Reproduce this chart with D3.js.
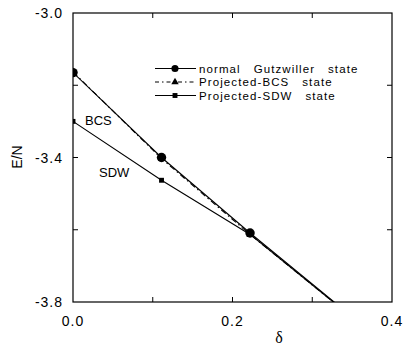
<!DOCTYPE html>
<html>
<head>
<meta charset="utf-8">
<script src="https://cdn.jsdelivr.net/npm/d3@7"></script>
<style>
  body { margin: 0; background: #fff; }
  svg { display: block; font-family: Arial, "Liberation Sans", sans-serif; }
</style>
</head>
<body>
<svg id="chart" width="407" height="348"></svg>
<script>
// doping values
const delta = [0, 0.111, 0.222, 0.333];
// energies per site
const gutzwiller = [-3.165, -3.400, -3.609, -3.810];
const projBCS = [-3.163, -3.403, -3.613, -3.812];
const projSDW = [-3.300, -3.463, -3.613, -3.812];

const xTicks = [0, 0.1, 0.2, 0.3, 0.4];
const xTickLabels = ['0.0', '', '0.2', '', '0.4'];
const yTicks = [-3.0, -3.2, -3.4, -3.6, -3.8];
const yTickLabels = ['-3.0', '', '-3.4', '', '-3.8'];

const legendNames = ['normal   Gutzwiller   state', 'Projected-BCS   state', 'Projected-SDW   state'];

const margin = { top: 13, right: 15, bottom: 46, left: 73 };
const width = 407, height = 348;
const innerW = width - margin.left - margin.right;
const innerH = height - margin.top - margin.bottom;

const svg = d3.select('#chart');
const g = svg.append('g').attr('transform', `translate(${margin.left},${margin.top})`);

const x = d3.scaleLinear().domain([0, 0.4]).range([0, innerW]);
const y = d3.scaleLinear().domain([-3.8, -3.0]).range([innerH, 0]);

svg.append('defs').append('clipPath').attr('id', 'clip')
  .append('rect').attr('width', innerW).attr('height', innerH);

// frame
g.append('rect')
  .attr('width', innerW).attr('height', innerH)
  .attr('fill', 'none').attr('stroke', '#000').attr('stroke-width', 1.2);

// inward ticks on all sides
const tickLen = 5;
const inner = yTicks.filter(v => v > -3.8 && v < -3.0);
const innerX = xTicks.filter(v => v > 0 && v < 0.4);
g.selectAll('.tl').data(inner).enter().append('line')
  .attr('x1', 0).attr('x2', tickLen).attr('y1', d => y(d)).attr('y2', d => y(d))
  .attr('stroke', '#000');
g.selectAll('.tr').data(inner).enter().append('line')
  .attr('x1', innerW - tickLen).attr('x2', innerW).attr('y1', d => y(d)).attr('y2', d => y(d))
  .attr('stroke', '#000');
g.selectAll('.tb').data(innerX).enter().append('line')
  .attr('x1', d => x(d)).attr('x2', d => x(d)).attr('y1', innerH).attr('y2', innerH - tickLen)
  .attr('stroke', '#000');
g.selectAll('.tt').data(innerX).enter().append('line')
  .attr('x1', d => x(d)).attr('x2', d => x(d)).attr('y1', 0).attr('y2', tickLen)
  .attr('stroke', '#000');

// tick labels
g.selectAll('.xl').data(xTicks).enter().append('text')
  .attr('x', d => x(d)).attr('y', innerH + 24)
  .attr('text-anchor', 'middle').attr('font-size', 14)
  .attr('letter-spacing', 1)
  .text((d, i) => xTickLabels[i]);
g.selectAll('.yl').data(yTicks).enter().append('text')
  .attr('x', -10).attr('y', d => y(d) + 5)
  .attr('text-anchor', 'end').attr('font-size', 14)
  .attr('letter-spacing', 1)
  .text((d, i) => yTickLabels[i]);

// axis titles
svg.append('text')
  .attr('x', 279).attr('y', 343)
  .attr('text-anchor', 'middle')
  .attr('font-family', '"Liberation Serif", "DejaVu Serif", serif')
  .attr('font-size', 16)
  .text('δ');
svg.append('text')
  .attr('transform', 'translate(22,157) rotate(-90)')
  .attr('text-anchor', 'middle').attr('font-size', 14)
  .text('E/N');

// lines
const series = [
  { vals: gutzwiller, dash: null, marker: 'circle' },
  { vals: projBCS, dash: '6,3,1.5,3', marker: 'triangle' },
  { vals: projSDW, dash: null, marker: 'square' }
];

const line = d3.line().x((d, i) => x(delta[i])).y(d => y(d));
const plot = g.append('g').attr('clip-path', 'url(#clip)');

series.forEach(s => {
  plot.append('path')
    .datum(s.vals)
    .attr('d', line)
    .attr('fill', 'none')
    .attr('stroke', '#000')
    .attr('stroke-width', 1.1)
    .attr('stroke-dasharray', s.dash);
});

const sym = {
  circle: d3.symbol().type(d3.symbolCircle).size(70),
  triangle: d3.symbol().type(d3.symbolTriangle).size(24),
  square: d3.symbol().type(d3.symbolSquare).size(24)
};

series.forEach(s => {
  plot.selectAll(null)
    .data(s.vals.filter((v, i) => v >= -3.8))
    .enter().append('path')
    .attr('d', sym[s.marker])
    .attr('transform', (d, i) => `translate(${x(delta[i])},${y(d)})`)
    .attr('fill', '#000');
});

// region labels
g.append('text').attr('x', 12).attr('y', 112).attr('font-size', 13).text('BCS');
g.append('text').attr('x', 26).attr('y', 164).attr('font-size', 13).text('SDW');

// legend
const leg = svg.append('g').attr('transform', 'translate(155,68.5)');
series.forEach((s, i) => {
  const row = leg.append('g').attr('transform', `translate(0,${i * 13.5})`);
  row.append('line')
    .attr('x1', 0).attr('x2', 41).attr('y1', 0).attr('y2', 0)
    .attr('stroke', '#000').attr('stroke-width', 1)
    .attr('stroke-dasharray', s.dash ? '4,3,1.5,3' : null);
  row.append('path')
    .attr('d', s.marker === 'circle' ? d3.symbol().type(d3.symbolCircle).size(40)() : sym[s.marker]())
    .attr('transform', 'translate(20,0)')
    .attr('fill', '#000');
  row.append('text')
    .attr('x', 44).attr('y', 4.2)
    .attr('font-size', 11.5)
    .attr('letter-spacing', 1.1)
    .style('white-space', 'pre')
    .text(legendNames[i]);
});
</script>
</body>
</html>
